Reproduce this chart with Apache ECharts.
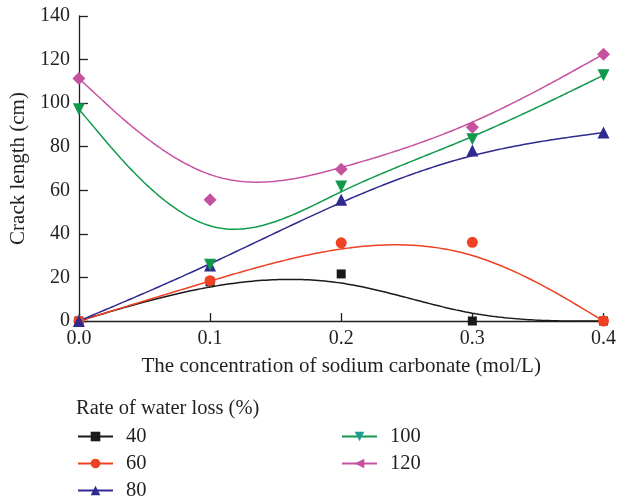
<!DOCTYPE html>
<html>
<head>
<meta charset="utf-8">
<script src="https://cdn.jsdelivr.net/npm/echarts@6/dist/echarts.min.js"></script>
<style>html,body{margin:0;padding:0;background:#fff}#c{width:619px;height:500px}</style>
</head>
<body>
<div id="c"></div>
<script>
// ---- data ----
const concentrations = [0.0, 0.1, 0.2, 0.3, 0.4];
const seriesNames = ['40', '60', '80', '100', '120'];
const loss40  = [0, 18, 21.6, 0, 0];
const loss60  = [0, 18.5, 35.9, 36.1, 0];
const loss80  = [0, 25.5, 55.6, 78.3, 86.5];
const loss100 = [97.2, 25.8, 61.7, 83.4, 112.8];
const loss120 = [111.3, 55.6, 69.6, 88.9, 122.5];
const yTicks = [0, 20, 40, 60, 80, 100, 120, 140];
const xTicks = [0.0, 0.1, 0.2, 0.3, 0.4];

const values = [loss40, loss60, loss80, loss100, loss120];
const colors = ['#1a1a1a', '#ef4124', '#2e2a8e', '#11994b', '#c6519f'];
const legendColors = ['#1a1a1a', '#ef4124', '#2e2a8e', '#1f9c94', '#c6519f'];
const symbols = ['rect', 'circle', 'triangle', 'triangle', 'diamond'];
const symbolRot = [0, 0, 0, 180, 0];
const symbolSizes = [9, 11, 12, 12, 13];
const legendSymbols = ['rect', 'circle', 'triangle', 'triangle', 'triangle'];
const legendRot = [0, 0, 0, 180, 90];

// Uniform cubic B-spline with the data points as control points
// (end points repeated so the curve starts and ends on them)
function bspline(xs, ys, steps) {
  const n = xs.length;
  const px = [xs[0], xs[0]].concat(xs, [xs[n - 1], xs[n - 1]]);
  const py = [ys[0], ys[0]].concat(ys, [ys[n - 1], ys[n - 1]]);
  const out = [];
  for (let i = 0; i + 3 < px.length; i++) {
    for (let k = 0; k <= steps; k++) {
      if (k === steps && i + 4 < px.length) continue;
      const t = k / steps;
      const b0 = (1 - t) * (1 - t) * (1 - t) / 6;
      const b1 = (3 * t * t * t - 6 * t * t + 4) / 6;
      const b2 = (-3 * t * t * t + 3 * t * t + 3 * t + 1) / 6;
      const b3 = t * t * t / 6;
      out.push([
        b0 * px[i] + b1 * px[i + 1] + b2 * px[i + 2] + b3 * px[i + 3],
        b0 * py[i] + b1 * py[i + 1] + b2 * py[i + 2] + b3 * py[i + 3]
      ]);
    }
  }
  return out;
}

const FONT = 'Liberation Serif';
const TXT = '#231f20';

const series = [];
seriesNames.forEach((name, i) => {
  series.push({
    name: name,
    type: 'line',
    data: bspline(concentrations, values[i], 40),
    showSymbol: false,
    symbol: legendSymbols[i],
    symbolRotate: legendRot[i],
    smooth: false,
    lineStyle: { color: colors[i], width: 1.5 },
    itemStyle: { color: legendColors[i] },
    z: 2,
    silent: true,
    animation: false
  });
});
seriesNames.forEach((name, i) => {
  series.push({
    name: name,
    type: 'scatter',
    data: concentrations.map((x, j) => [x, values[i][j]]),
    symbol: symbols[i],
    symbolRotate: symbolRot[i],
    symbolSize: symbolSizes[i],
    itemStyle: { color: colors[i], opacity: 1 },
    z: 3 + i,
    animation: false
  });
});

const legendCommon = {
  orient: 'vertical',
  itemWidth: 35,
  itemHeight: 12,
  itemGap: 6,
  height: 100,
  textStyle: { fontFamily: FONT, fontSize: 20.5, color: TXT, lineHeight: 20, padding: [0, 0, 0, 8] },
  selectedMode: false,
  padding: 0
};

const option = {
  backgroundColor: '#fff',
  animation: false,
  title: {
    text: 'Rate of water loss (%)',
    left: 76,
    top: 398,
    padding: 0,
    textStyle: { fontFamily: FONT, fontSize: 20.5, fontWeight: 'normal', color: TXT }
  },
  legend: [
    Object.assign({}, legendCommon, { data: seriesNames.slice(0, 3), left: 77, top: 426 }),
    Object.assign({}, legendCommon, { data: seriesNames.slice(3), left: 341, top: 426 })
  ],
  grid: { left: 76, right: 13, top: 16, bottom: 179 },
  xAxis: {
    type: 'value',
    min: 0,
    max: 0.4,
    interval: 0.1,
    name: 'The concentration of sodium carbonate (mol/L)',
    nameLocation: 'middle',
    nameGap: 35,
    nameTextStyle: { fontFamily: FONT, fontSize: 21, color: TXT },
    axisLine: { lineStyle: { color: TXT, width: 1.3 } },
    axisTick: { inside: true, length: 8, lineStyle: { color: TXT, width: 1.3 } },
    axisLabel: {
      fontFamily: FONT, fontSize: 20, color: TXT, margin: 8,
      formatter: v => xTicks.find(t => Math.abs(t - v) < 1e-9).toFixed(1)
    },
    splitLine: { show: false }
  },
  yAxis: {
    type: 'value',
    min: yTicks[0],
    max: yTicks[yTicks.length - 1],
    interval: 20,
    name: 'Crack length (cm)',
    nameLocation: 'middle',
    nameRotate: 90,
    nameGap: 48,
    nameTextStyle: { fontFamily: FONT, fontSize: 21, color: TXT },
    axisLine: { show: true, lineStyle: { color: TXT, width: 1.3 } },
    axisTick: { show: true, inside: true, length: 9, lineStyle: { color: TXT, width: 1.3 } },
    axisLabel: { fontFamily: FONT, fontSize: 20, color: TXT, margin: 9 },
    splitLine: { show: false }
  },
  series: series
};

const chart = echarts.init(document.getElementById('c'), null, { renderer: 'canvas' });
chart.setOption(option);
</script>
</body>
</html>
